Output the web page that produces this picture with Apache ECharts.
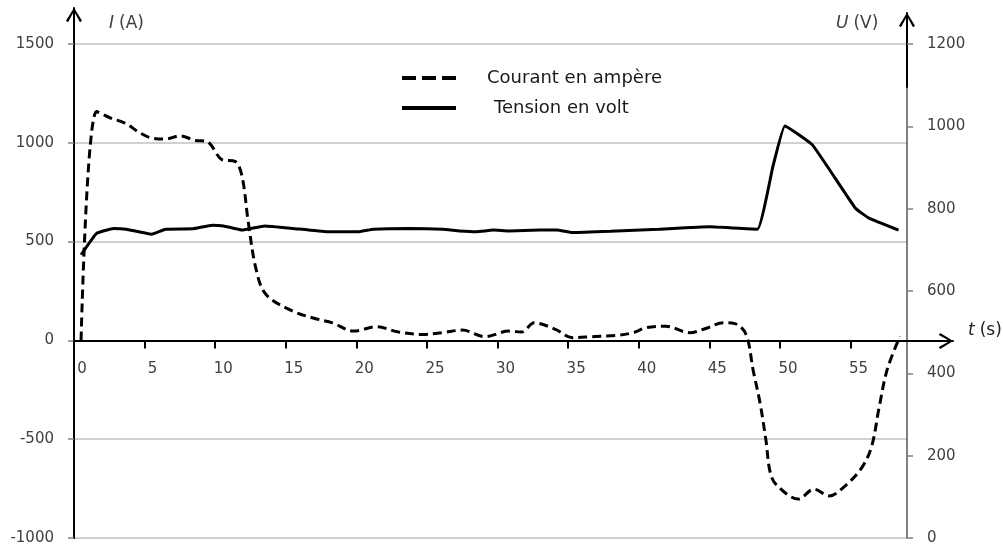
<!DOCTYPE html>
<html><head><meta charset="utf-8">
<script src="https://cdn.jsdelivr.net/npm/echarts@6/dist/echarts.min.js"></script>
<style>html,body{margin:0;padding:0;background:#fff}#c{width:1003px;height:547px}</style>
</head><body><div id="c"></div>
<script>
// Courant (A) - time (s)
const tCurrent = [0.5, 1.6, 2.6, 3.6, 4.7, 5.5, 6.5, 7.5, 8.6, 9.4, 10.5, 11.4, 11.9, 12.35, 12.9, 13.6, 15.5, 17.0, 18.3, 19.8, 21.4, 23.0, 24.7, 26.1, 27.5, 29.1, 30.8, 31.7, 32.6, 34.1, 35.3, 36.7, 38.4, 39.6, 40.5, 41.9, 43.6, 44.7, 46.0, 46.8, 47.6, 48.1, 48.6, 49.0, 49.4, 50.2, 51.3, 52.4, 53.5, 54.6, 55.8, 56.5, 57.0, 57.6, 58.5];
const current  = [0, 1158, 1125, 1100, 1049, 1024, 1019, 1035, 1012, 1007, 914, 906, 830, 595, 359, 232, 148, 112, 89, 47, 69, 42, 30, 39, 52, 19, 47, 42, 89, 56, 14, 19, 25, 39, 64, 72, 39, 59, 89, 85, 30, -150, -320, -500, -690, -761, -803, -753, -787, -737, -644, -535, -349, -147, 20];
// Tension (V) - time (s)
const tVoltage = [0.5, 1.6, 2.8, 3.7, 5.5, 6.5, 8.4, 9.8, 10.6, 11.9, 13.5, 15.5, 17.9, 20.2, 21.2, 23.8, 26.1, 27.3, 28.5, 29.7, 30.8, 33.0, 34.2, 35.3, 38.0, 41.4, 45.0, 48.4, 49.5, 50.35, 52.3, 55.35, 56.3, 58.4];
const voltage  = [688, 740, 752, 750, 738, 750, 751, 760, 758, 748, 758, 752, 744, 744, 750, 752, 750, 746, 744, 748, 746, 748, 748, 742, 745, 750, 756, 750, 902, 1001, 955, 801, 777, 748];
const xTicks = [0, 5, 10, 15, 20, 25, 30, 35, 40, 45, 50, 55];
const seriesNames = ['Courant en ampère', 'Tension en volt'];

const FONT = 'DejaVu Sans';
const chevron = 'path://M8,0L16,13L14,14.5L8,3.5L2,14.5L0,13Z';
const zip = (a, b) => a.map((v, i) => [v, b[i]]);
const plain = v => String(v);
const rich = (c) => ({
  i: {fontFamily: FONT, fontSize: 17, fontStyle: 'italic', fontWeight: 'normal', color: c},
  n: {fontFamily: FONT, fontSize: 17, fontWeight: 'normal', color: c}
});

// main grid geometry
const G = {left: 74, right: 96, top: 44, bottom: 9};
const yMin = -1000, yMax = 1500;
const plotH = 547 - G.top - G.bottom;
const zeroOffset = -plotH * (0 - yMin) / (yMax - yMin); // lift x axis to I = 0

const chart = echarts.init(document.getElementById('c'), null, {renderer: 'canvas'});
chart.setOption({
  animation: false,
  backgroundColor: '#fff',
  title: [
    {text: '{i|I} {n|(A)}', left: 104, top: 10, textStyle: {fontWeight: 'normal', rich: rich('#404040')}},
    {text: '{i|U} {n|(V)}', left: 831, top: 10, textStyle: {fontWeight: 'normal', rich: rich('#404040')}},
    {text: '{i|t} {n|(s)}', left: 963, top: 317, textStyle: {fontWeight: 'normal', rich: rich('#222')}}
  ],
  legend: [
    {data: [seriesNames[0]], left: 395, top: 64, itemWidth: 54, itemHeight: 14, selectedMode: false,
     itemStyle: {opacity: 0}, lineStyle: {type: [14, 6], width: 4, color: '#000'},
     textStyle: {fontFamily: FONT, fontSize: 18, color: '#1a1a1a', padding: [0, 0, 6, 26]}},
    {data: [seriesNames[1]], left: 395, top: 94, itemWidth: 54, itemHeight: 14, selectedMode: false,
     itemStyle: {opacity: 0}, lineStyle: {width: 4, color: '#000'},
     textStyle: {fontFamily: FONT, fontSize: 18, color: '#1a1a1a', padding: [0, 0, 6, 33]}}
  ],
  grid: [
    Object.assign({outerBoundsMode: 'none', containLabel: false}, G),
    {left: 74, right: 50, top: 8, bottom: 9, outerBoundsMode: 'none', containLabel: false},
    {left: 74, right: 96, top: 13, height: 74, outerBoundsMode: 'none', containLabel: false}
  ],
  xAxis: [
    {gridIndex: 0, type: 'value', min: 0, max: 59, interval: 5, position: 'bottom', offset: zeroOffset,
     axisLine: {onZero: false, lineStyle: {color: '#000', width: 2}},
     axisTick: {show: true, length: 8, customValues: xTicks, lineStyle: {color: '#000', width: 2}},
     axisLabel: {customValues: xTicks, formatter: plain, margin: 21, padding: [0, 0, 0, 16], fontFamily: FONT, fontSize: 15, color: '#404040'},
     splitLine: {show: false}},
    {gridIndex: 1, type: 'value', min: 0, max: 1,
     axisLine: {onZero: true, symbol: ['none', chevron], symbolSize: [16, 15], symbolOffset: [0, -7], lineStyle: {color: '#000', width: 2}},
     axisTick: {show: false}, axisLabel: {show: false}, splitLine: {show: false}},
    {gridIndex: 2, type: 'value', show: false}
  ],
  yAxis: [
    {gridIndex: 0, type: 'value', position: 'left', min: yMin, max: yMax, interval: 500,
     axisLine: {show: true, onZero: false, lineStyle: {color: '#000', width: 2}},
     axisTick: {show: true, length: 6, lineStyle: {color: '#808080', width: 1.5}},
     axisLabel: {margin: 20, formatter: plain, fontFamily: FONT, fontSize: 15, color: '#404040'},
     splitLine: {show: true, lineStyle: {color: '#c0c0c0', width: 1.5}}},
    {gridIndex: 0, type: 'value', position: 'right', min: 0, max: 1200, interval: 200,
     axisLine: {show: true, onZero: false, lineStyle: {color: '#555', width: 1.5}},
     axisTick: {show: true, length: 6, lineStyle: {color: '#808080', width: 1.5}},
     axisLabel: {margin: 20, formatter: plain, fontFamily: FONT, fontSize: 15, color: '#404040'},
     splitLine: {show: false}},
    {gridIndex: 1, type: 'value', position: 'left', min: -1000, max: 1690,
     axisLine: {show: true, onZero: false, symbol: ['none', chevron], symbolSize: [16, 15], symbolOffset: [0, -7], lineStyle: {color: '#000', width: 2}},
     axisTick: {show: false}, axisLabel: {show: false}, splitLine: {show: false}},
    {gridIndex: 2, type: 'value', position: 'right', min: 0, max: 1,
     axisLine: {show: true, onZero: false, symbol: ['none', chevron], symbolSize: [16, 15], symbolOffset: [0, -7], lineStyle: {color: '#000', width: 2}},
     axisTick: {show: false}, axisLabel: {show: false}, splitLine: {show: false}}
  ],
  series: [
    {name: seriesNames[0], type: 'line', xAxisIndex: 0, yAxisIndex: 0, data: zip(tCurrent, current),
     smooth: 0.35, symbol: 'none', itemStyle: {color: '#000'}, lineStyle: {color: '#000', width: 3, type: [9, 5]}, z: 5},
    {name: seriesNames[1], type: 'line', xAxisIndex: 0, yAxisIndex: 1, data: zip(tVoltage, voltage),
     smooth: 0.1, symbol: 'none', itemStyle: {color: '#000'}, lineStyle: {color: '#000', width: 3}, z: 5}
  ]
});
</script></body></html>
